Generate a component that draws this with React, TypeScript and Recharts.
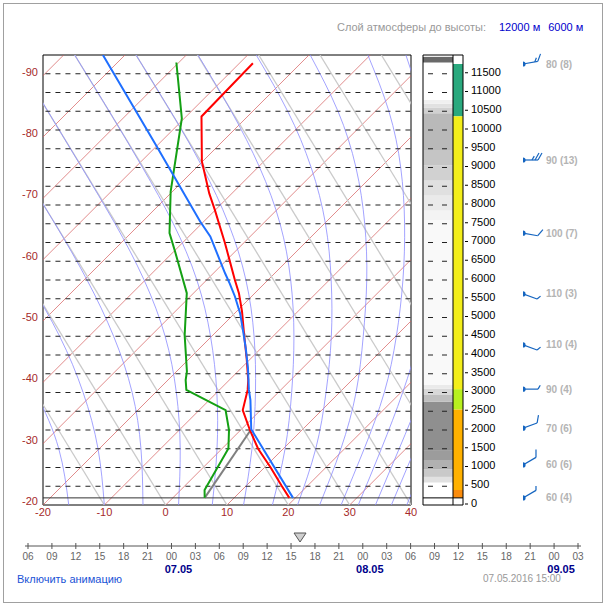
import { ComposedChart, Line, XAxis, YAxis, ReferenceArea, Scatter } from 'recharts'

// skew of the isotherms in this diagram, °C per km
const K = 6.114
const GROUND = 190
const DRY_LAPSE = 9.85
const BROWN = '#a52a2a'

// air temperature (red)
const tempH = [190, 500, 1000, 1500, 2000, 2530, 3070, 3330, 3910, 4530, 5160, 5650, 6000, 6490, 6980, 7870, 8310, 9160, 10360, 11780]
const tempT = [19.0, 15.9, 11.0, 5.9, 1.5, -2.9, -5.4, -6.9, -10.7, -14.9, -19.1, -22.6, -25.4, -29.2, -33.0, -40.1, -43.7, -50.1, -57.5, -57.8]

// dew point (green)
const dewH = [190, 400, 1510, 2000, 2530, 3070, 3330, 3560, 4530, 5650, 6760, 7250, 8360, 10310, 11800]
const dewT = [5.2, 3.9, 1.0, -1.9, -5.7, -15.4, -17.1, -18.3, -24.6, -31.1, -39.8, -43.7, -50.3, -60.4, -70.4]

// lifted parcel (blue) and its dew point up to the condensation level (grey)
const parcelH = [190, 2020, 2800, 3070, 3650, 4180, 4620, 5110, 5560, 5910, 6180, 7160, 7560, 9560, 12000]
const parcelT = [19.6, 1.6, -3.3, -5.2, -8.9, -12.5, -15.6, -19.1, -22.7, -25.7, -28.1, -36.5, -40.6, -59.9, -83.6]
const mixH = [190, 2020]
const mixT = [5.2, 1.6]

// grid
const isotherms = [-90, -80, -70, -60, -50, -40, -30, -20, -10, 0, 10, 20, 30, 40]
const dryBase = [-10, 0, 10, 20, 30, 40, 50, 60, 70, 80]
const moistH = [0, 1500, 3000, 4500, 6000, 7500, 9000, 10500, 12000]
const moistT = [
  [-15.8, -26.6, -39.6, -54.4],
  [-10.0, -20.2, -31.8, -44.8, -59.1],
  [-3.7, -13.2, -23.8, -36.0, -49.5, -63.9, -78.7],
  [2.1, -6.8, -16.6, -27.6, -40.2, -54.1, -68.7, -83.4, -98.2],
  [7.6, -0.8, -10.0, -20.2, -31.6, -44.6, -58.8, -73.4, -88.2],
  [12.7, 4.9, -3.7, -13.1, -23.6, -35.6, -49.0, -63.4, -78.2],
  [17.4, 10.3, 2.2, -6.6, -16.3, -27.2, -39.7, -53.5, -68.1],
  [21.5, 15.3, 7.8, -0.5, -9.7, -19.8, -31.3, -44.3, -58.6],
  [25.1, 19.4, 12.7, 4.7, -3.9, -13.4, -24.0, -36.1, -49.8],
  [28.6, 23.2, 17.3, 10.1, 2.0, -6.9, -16.7, -27.8, -40.4],
  [31.4, 26.0, 20.3, 13.8, 6.0, -2.6, -11.9, -22.3, -34.2],
  [34.2, 28.9, 23.4, 17.2],
  [36.8, 31.5, 26.2],
  [39.3, 34.0],
]
const xTicks = [-20, -10, 0, 10, 20, 30, 40]
const leftLabels = [-20, -30, -40, -50, -60, -70, -80, -90]
const heightTicks = [0, 500, 1000, 1500, 2000, 2500, 3000, 3500, 4000, 4500, 5000, 5500, 6000, 6500, 7000, 7500, 8000, 8500, 9000, 9500, 10000, 10500, 11000, 11500]

// cloud column: band edges (m) and cover (%)
const cloudEdges = [600, 750, 950, 1200, 1450, 2750, 2950, 3100, 3200, 7600, 7850, 8250, 8650, 9050, 9450, 10450, 10600, 10700, 10800, 11800, 11950]
const cloudCover = [20, 36, 52, 66, 75, 43, 26, 14, 4, 8, 14, 21, 31, 39, 47, 31, 20, 10, 0, 100]

// colour strip next to the cloud column
const stripEdges = [190, 400, 2550, 3090, 10370, 11760]
const stripZone = ['warm', 'mild', 'zero', 'cold', 'high']

// wind
const windH = [190, 1070, 2050, 3090, 4270, 5630, 7250, 9200, 11760]
const windDir = [60, 60, 70, 90, 110, 110, 100, 90, 80]
const windSpd = [4, 6, 6, 4, 4, 3, 7, 13, 8]

// time line
const hours = ['06', '09', '12', '15', '18', '21', '00', '03', '06', '09', '12', '15', '18', '21', '00', '03', '06', '09', '12', '15', '18', '21', '00', '03']
const dayIdx = [6, 14, 22]
const dayText = ['07.05', '08.05', '09.05']
const currentIdx = 11

const zoneColor: Record<string, string> = {
  warm: '#fb8c0c', mild: '#ffb100', zero: '#b7f01f', cold: '#f3ee1b', high: '#2aa97e',
}

const sk = (T: number, h: number) => T + (K * h) / 1000
const pts = (Ts: number[], Hs: number[]) => Ts.map((t, i) => ({ x: sk(t, Hs[i]), h: Hs[i] }))

function grey(c: number) {
  const v = Math.round(255 - c * 1.5)
  return `rgb(${v},${v},${v})`
}

function XTick({ x, y, payload }: any) {
  return <text x={x} y={y} dy="0.71em" textAnchor="middle" fontSize={11} fill={BROWN}>{payload.value}</text>
}

function LeftTick({ x, y, payload }: any) {
  const t = Math.round(-20 - (K * payload.value) / 1000)
  return <text x={x} y={y - 4} dy="0.35em" textAnchor="end" fontSize={11} fill={BROWN}>{t}</text>
}

function RightTick({ x, y, payload }: any) {
  return (
    <g>
      <line x1={x + 2} x2={x + 5} y1={y - 1} y2={y - 1} stroke="#000" />
      <text x={x + 8} y={y - 2} dy="0.35em" fontSize={11} fill="#000">{payload.value}</text>
    </g>
  )
}

function HourTick({ x, y, payload }: any) {
  const i = payload.value
  const d = dayIdx.indexOf(i)
  return (
    <g>
      <line x1={x} x2={x} y1={y - 3} y2={y + 3} stroke="#555" />
      <text x={x} y={y + 14} textAnchor="middle" fontSize={10} fill="#666">{hours[i]}</text>
      {d >= 0 && <text x={x + 7} y={y + 27} textAnchor="middle" fontSize={11} fontWeight="bold" fill="#00008b">{dayText[d]}</text>}
    </g>
  )
}

function Barb({ cx, cy, payload }: any) {
  const a = ((payload.dir - 90) * Math.PI) / 180
  const ux = Math.cos(a), uy = Math.sin(a)
  const L = 15
  const ex = cx + ux * L, ey = cy + uy * L
  const n = Math.floor(payload.spd / 2.5)
  const full = Math.floor(n / 2), half = n % 2
  const b = a - Math.PI / 3
  const bx = Math.cos(b), by = Math.sin(b)
  const strokes = []
  for (let i = 0; i < full + half; i++) {
    const len = i < full ? 8 : 4.5
    const sx = ex - ux * 3 * i, sy = ey - uy * 3 * i
    strokes.push(<line key={i} x1={sx} y1={sy} x2={sx + bx * len} y2={sy + by * len} stroke="#1565c0" strokeWidth={1.2} />)
  }
  return (
    <g>
      <circle cx={cx} cy={cy} r={2.6} fill="#1565c0" />
      <line x1={cx} y1={cy} x2={ex} y2={ey} stroke="#1565c0" strokeWidth={1.2} />
      {strokes}
      <text x={cx + 23} y={cy} dy="0.35em" fontSize={10} fontWeight="bold" fill="#b4b4b4">{`${payload.dir} (${payload.spd})`}</text>
    </g>
  )
}

// the marker image sits a little to the right of its time tick
function Triangle({ cx, cy }: any) {
  const c = cx + 9
  return <polygon points={`${c - 6},${cy - 13} ${c + 6},${cy - 13} ${c},${cy - 4}`} fill="#cfcfcf" stroke="#555" />
}

const line = (key: string, data: any[], stroke: string, width: number, dash?: string, type: any = 'linear') => (
  <Line key={key} data={data} dataKey="h" type={type} stroke={stroke} strokeWidth={width} strokeDasharray={dash}
    dot={false} activeDot={false} isAnimationActive={false} />
)

function MainChart() {
  return (
    <ComposedChart width={420} height={530} margin={{ top: 55, right: 9, bottom: 0, left: 0 }}>
      <XAxis type="number" dataKey="x" domain={[-20, 40]} ticks={xTicks} allowDataOverflow height={25} interval={0}
        axisLine={false} tickLine={false} tickSize={0} tickMargin={3} tick={<XTick />} />
      <YAxis type="number" domain={[0, 12000]} ticks={leftLabels.map(t => ((-20 - t) / K) * 1000)} allowDataOverflow width={43} interval={0}
        axisLine={false} tickLine={false} tickSize={0} tickMargin={5} tick={<LeftTick />} />
      {isotherms.map(t => line('iso' + t, [{ x: sk(t, 0), h: 0 }, { x: sk(t, 12000), h: 12000 }], '#d45a5a', 0.7))}
      {dryBase.map(t => line('dry' + t, [{ x: t, h: 0 }, { x: sk(t - DRY_LAPSE * 12, 12000), h: 12000 }], '#cacaca', 1.3))}
      {moistT.map((ts, i) => line('moist' + i, pts(ts, moistH), '#8c8cff', 0.8, undefined, 'natural'))}
      {heightTicks.slice(1).map(h => line('lev' + h, [{ x: -19.6, h }, { x: 40, h }], '#222', 1, '5 5'))}
      {line('ground', [{ x: -20, h: GROUND }, { x: 40, h: GROUND }], '#333', 1)}
      {line('mix', pts(mixT, mixH), '#808080', 2)}
      {line('dew', pts(dewT, dewH), '#14a014', 2)}
      {line('temp', pts(tempT, tempH), '#ff0000', 2)}
      {line('parcel', pts(parcelT, parcelH), '#1f6fff', 2)}
      <ReferenceArea x1={-20} x2={40} y1={0} y2={12000} fill="none" stroke="#000" strokeWidth={1} />
    </ComposedChart>
  )
}

function ColumnChart() {
  return (
    <ComposedChart width={186} height={530} margin={{ top: 55, right: 0, bottom: 25, left: 3 }}>
      <XAxis type="number" dataKey="x" domain={[0, 4]} allowDataOverflow hide />
      <YAxis type="number" orientation="right" domain={[0, 12000]} allowDataOverflow ticks={heightTicks} width={143} interval={0}
        axisLine={false} tickLine={false} tickSize={0} tickMargin={0} tick={<RightTick />} />
      {cloudCover.map((c, i) => (
        <ReferenceArea key={'cl' + i} x1={0} x2={3} y1={cloudEdges[i]} y2={cloudEdges[i + 1]} fill={grey(c)} fillOpacity={1} stroke="none" ifOverflow="hidden" />
      ))}
      {stripZone.map((z, i) => (
        <ReferenceArea key={'st' + i} x1={3} x2={4} y1={stripEdges[i]} y2={stripEdges[i + 1]} fill={zoneColor[z]} fillOpacity={1} stroke="none" ifOverflow="hidden" />
      ))}
      {heightTicks.slice(1).map(h => line('d' + h, [{ x: 0, h }, { x: 3, h }], '#222', 1, '0 5 5 9 5 100'))}
      {line('ground', [{ x: 0, h: GROUND }, { x: 4, h: GROUND }], '#000', 1)}
      {line('divider', [{ x: 3, h: 0 }, { x: 3, h: 12000 }], '#000', 1)}
      <ReferenceArea x1={0} x2={4} y1={0} y2={12000} fill="none" stroke="#000" strokeWidth={1} />
    </ComposedChart>
  )
}

function WindChart() {
  const data = windH.map((h, i) => ({ p: 0, h, dir: windDir[i], spd: windSpd[i] }))
  return (
    <ComposedChart width={83} height={530} margin={{ top: 55, right: 0, bottom: 25, left: 0 }}>
      <XAxis type="number" dataKey="p" domain={[0, 1]} hide />
      <YAxis type="number" dataKey="h" domain={[0, 12000]} hide />
      <Scatter data={data} shape={<Barb />} isAnimationActive={false} />
    </ComposedChart>
  )
}

function TimeChart() {
  return (
    <ComposedChart width={606} height={74} margin={{ top: 20, right: 25, bottom: 0, left: 25 }}>
      <XAxis type="number" dataKey="t" domain={[0, hours.length - 1]} ticks={hours.map((_, i) => i)} interval={0}
        padding={{ left: 3, right: 3 }} height={44} axisLine={{ stroke: '#555' }} tickLine={false}
        tickSize={0} tickMargin={0} tick={<HourTick />} />
      <YAxis type="number" dataKey="v" domain={[0, 1]} hide />
      <Scatter data={[{ t: currentIdx, v: 0 }]} shape={<Triangle />} isAnimationActive={false} />
    </ComposedChart>
  )
}

export default function App() {
  return (
    <div style={{ position: 'relative', width: 606, height: 607, overflow: 'hidden', fontFamily: '"Liberation Sans", Arial, sans-serif', background: '#fff' }}>
      <style>{'body{margin:0}'}</style>
      <div style={{ position: 'absolute', left: 3, top: 3, width: 598, height: 598, border: '1px solid #a0a0a0' }} />
      <div style={{ position: 'absolute', left: 337, top: 21, fontSize: 11, lineHeight: '13px', color: '#999', whiteSpace: 'nowrap' }}>
        Слой атмосферы до высоты:
        <span style={{ color: '#0000cc', marginLeft: 13 }}>12000 м</span>
        <span style={{ color: '#0000cc', marginLeft: 8 }}>6000 м</span>
      </div>
      <div style={{ position: 'absolute', left: 0, top: 0 }}><MainChart /></div>
      <div style={{ position: 'absolute', left: 420, top: 0 }}><ColumnChart /></div>
      <div style={{ position: 'absolute', left: 523, top: 0 }}><WindChart /></div>
      <div style={{ position: 'absolute', left: 0, top: 516 }}><TimeChart /></div>
      <div style={{ position: 'absolute', left: 17, top: 573, fontSize: 11, color: '#1a53d6' }}>Включить анимацию</div>
      <div style={{ position: 'absolute', left: 483, top: 573, fontSize: 10, color: '#999' }}>07.05.2016 15:00</div>
    </div>
  )
}
